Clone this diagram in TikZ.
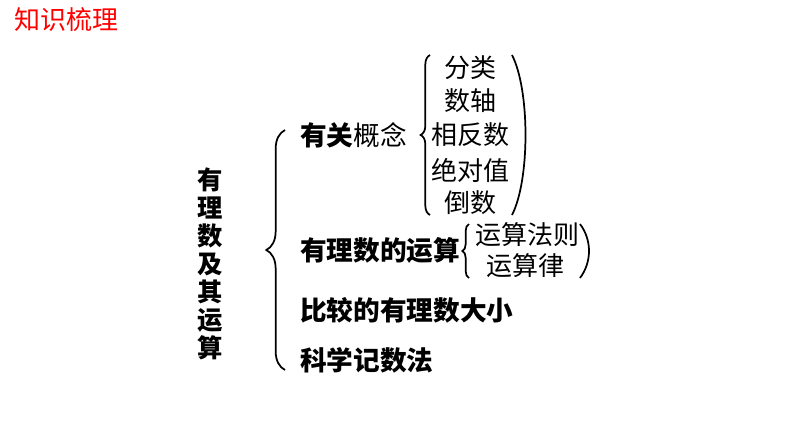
\documentclass[tikz,border=0pt]{standalone}
\usepackage{fontspec}
\setmainfont{Noto Sans CJK SC}
\usetikzlibrary{decorations.pathreplacing}
\begin{document}
\begin{tikzpicture}[x=0.75pt,y=-0.75pt,
  big/.style={font=\fontsize{20}{22}\selectfont\bfseries,inner sep=0,anchor=west},
  item/.style={font=\fontsize{19.5}{21}\selectfont,inner sep=0},
  br/.style={decorate,decoration={brace,amplitude=#1},line width=1.3pt},
  pr/.style={line width=1.3pt}]
\useasboundingbox (0,0) rectangle (794,447);
\node[inner sep=0,anchor=west,text=red,font=\fontsize{19.5}{21}\selectfont] (title) at (14,20) {知识梳理};
\node[inner sep=0,align=center,font=\fontsize{19}{25.5}\selectfont\bfseries] (main) at (210,264) {有\\[-4.5pt]理\\[-4.5pt]数\\[-4.5pt]及\\[-4.5pt]其\\[-4.5pt]运\\[-4.5pt]算};
\draw[br=14pt] (285,370) -- (285,130);
\node[big] (gn) at (300,135) {有关\mdseries 概念};
\draw[br=7pt] (430,215) -- (430,55);
\node[item] (a1) at (470,68) {分类};
\node[item] (a2) at (470,101) {数轴};
\node[item] (a3) at (470,135) {相反数};
\node[item] (a4) at (470,170) {绝对值};
\node[item] (a5) at (470,203) {倒数};
\draw[pr] (512,55) .. controls (530,90) and (530,180) .. (512,215);
\node[big] (ys) at (300,250) {有理数的运算};
\draw[br=5pt] (469,278) -- (469,224);
\node[item] (b1) at (527,235) {运算法则};
\node[item] (b2) at (525,266) {运算律};
\draw[pr] (580,224) .. controls (592,240) and (592,262) .. (580,278);
\node[big] (bj) at (300,310) {比较的有理数大小};
\node[big] (kx) at (300,360) {科学记数法};
\end{tikzpicture}
\end{document}
